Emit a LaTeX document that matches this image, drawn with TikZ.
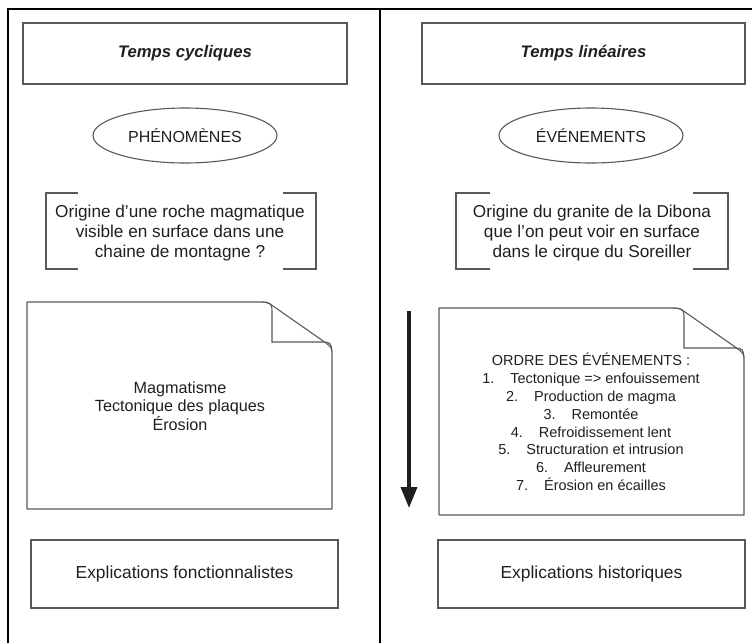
\documentclass[tikz,border=0pt]{standalone}
\usepackage{fontspec}
\setmainfont{Liberation Sans}
\usetikzlibrary{shapes.geometric,arrows.meta}
\definecolor{boxgray}{gray}{0.35}
\definecolor{txtgray}{gray}{0.12}
\begin{document}
\begin{tikzpicture}[x=1pt,y=-1pt,
    box/.style={draw=boxgray,line width=1.1pt,minimum height=61pt,text=txtgray},
    lbl/.style={text=txtgray,align=center,inner sep=0pt},
    docline/.style={draw=boxgray,line width=1.1pt}]
    \useasboundingbox (0,0) rectangle (752,643);
    % cadre
    \draw[line width=1.8pt] (8,643)--(8,9)--(752,9);
    \draw[line width=1.6pt] (380,9)--(380,643);
    % titres
    \node[box,minimum width=324pt,font=\fontsize{16.7}{20}\selectfont\bfseries\itshape] (cyc) at (185,53.5) {Temps cycliques};
    \node[box,minimum width=323pt,font=\fontsize{16.7}{20}\selectfont\bfseries\itshape] (lin) at (583.5,53.5) {Temps linéaires};
    \node[box,ellipse,minimum width=184pt,minimum height=55pt,font=\fontsize{16}{19}\selectfont] (phen) at (185,135.5) {PHÉNOMÈNES};
    \node[box,ellipse,minimum width=184pt,minimum height=55pt,font=\fontsize{16}{19}\selectfont] (even) at (591,135.5) {ÉVÉNEMENTS};
    % questions
    \node[lbl,font=\fontsize{17.2}{20}\selectfont] (qcyc) at (180,233) {Origine d’une roche magmatique\\visible en surface dans une\\chaine de montagne ?};
    \node[lbl,font=\fontsize{17.2}{20}\selectfont] (qlin) at (592,233) {Origine du granite de la Dibona\\que l’on peut voir en surface\\dans le cirque du Soreiller};
    \draw[docline] (78,193)--(46,193)--(46,269)--(78,269);
    \draw[docline] (283,193)--(316,193)--(316,269)--(283,269);
    \draw[docline] (490,193)--(456,193)--(456,269)--(490,269);
    \draw[docline] (693,193)--(728,193)--(728,269)--(693,269);
    % documents
    \foreach \dx/\dy in {27/302,439/308}{
    \begin{scope}[shift={(\dx,\dy)}]
    \draw[docline,line join=round] (0,207)--(0,0)--(231,0) .. controls (240,0) .. (246,4)--(299,41) .. controls (305,46) .. (305,54)--(305,207)--cycle;
    \draw[docline] (235,0) .. controls (245,1) .. (245,12)--(245,40)--(297,40) .. controls (304,41) .. (305,50);
    \end{scope}}
    \node[lbl,font=\fontsize{16.2}{18.7}\selectfont] (phys) at (180,406) {Magmatisme\\Tectonique des plaques\\Érosion};
    \node[lbl,font=\fontsize{14.5}{17.8}\selectfont] (ordre) at (591,422) {ORDRE DES ÉVÉNEMENTS :\\
      1.\hspace{1.1em}Tectonique => enfouissement\\
      2.\hspace{1.1em}Production de magma\\
      3.\hspace{1.1em}Remontée\\
      4.\hspace{1.1em}Refroidissement lent\\
      5.\hspace{1.1em}Structuration et intrusion\\
      6.\hspace{1.1em}Affleurement\\
      7.\hspace{1.1em}Érosion en écailles};
    % fleche du temps
    \coordinate (tdebut) at (409,311);
    \coordinate (tfin) at (409,508);
    \draw[line width=3.6pt,color=txtgray,-{Triangle[length=21pt,width=16pt]}] (tdebut)--(tfin);
    % explications
    \node[box,minimum width=307pt,minimum height=68pt,font=\fontsize{17.4}{20}\selectfont] (fonc) at (184.5,574) {Explications fonctionnalistes};
    \node[box,minimum width=307pt,minimum height=68pt,font=\fontsize{17.4}{20}\selectfont] (hist) at (591.5,574) {Explications historiques};
\end{tikzpicture}
\end{document}
